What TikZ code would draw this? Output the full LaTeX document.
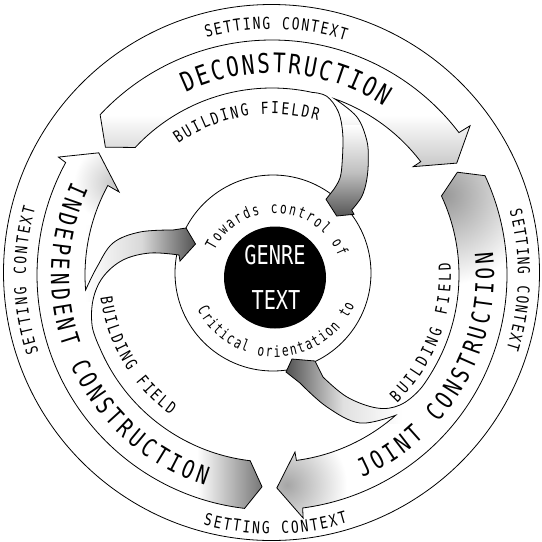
\documentclass[tikz,border=0pt]{standalone}
\usepackage{fontspec}
\newfontfamily\cf[FakeStretch=0.78]{DejaVu Sans Mono}
\newfontfamily\cfn[FakeStretch=0.72]{DejaVu Sans Mono}
\usetikzlibrary{decorations.text}
\newcommand\fSC{\cf\fontsize{16.5}{16.5}\selectfont}
\newcommand\fBig{\cf\fontsize{25}{25}\selectfont}
\newcommand\fDec{\cf\fontsize{27}{27}\selectfont}
\newcommand\fGen{\cf\fontsize{26}{26}\selectfont}
\newcommand\fBF{\cf\fontsize{16.5}{16.5}\selectfont}
\newcommand\fIn{\cfn\fontsize{15.5}{15.5}\selectfont}
\newcommand\PDecon{(-137:235) arc[start angle=-137, end angle=-37.3, radius=235] -- (-37:248) -- (-31.2:216) -- (-37.5:178) -- (-37.3:187) arc[start angle=-37.3, end angle=-70.4, radius=187] -- plot[smooth, tension=0.6] coordinates {(-70.4:187) (84.7,-158.3) (94.7,-135) (96.3,-115) (94.7,-95) (89.7,-78.3) (79.7,-65)} -- (82,-60.7) -- (64.7,-59) -- (54,-75.7) -- plot[smooth, tension=0.6] coordinates {(61.3,-85) (68,-97) (70.3,-115) (70.7,-141.7) (66.3,-163.3) (54.7,-178.8) (-77.6:187)} arc[start angle=-77.6, end angle=-137, radius=187] -- (-142.5:210) -- cycle}
\newcommand\PJoint{(-25:235) arc[start angle=-25, end angle=82.5, radius=235] -- (82.7:245) -- (88.7:213) -- (82.6:178.5) -- (82.5:187) arc[start angle=82.5, end angle=48.6, radius=187] -- plot[smooth, tension=0.6] coordinates {(48.6:187) (88,148) (55,132) (28,108)} -- (14,97) -- (20,84) -- (43,86) -- plot[smooth, tension=0.6] coordinates {(51,102) (75,122) (105,133) (128,130) (37.8:187) (30:187)} arc[start angle=30, end angle=-25, radius=187] -- (-29:212) -- cycle}
\newcommand\PIndep{(96.7:235) arc[start angle=96.7, end angle=208.6, radius=235] -- (208.9:244) -- (215.2:212) -- (208.5:174) -- (208.6:187) arc[start angle=208.6, end angle=175.4, radius=187] -- plot[smooth, tension=0.6] coordinates {(175.4:187) (-175,-8) (-159,-32) (-132,-43) (-99,-45)} -- (-86,-47) -- (-76.5,-31) -- (-92,-14) -- plot[smooth, tension=0.6] coordinates {(-93,-20) (-122,-22) (-149,-15) (-169,2) (-179,25) (164:187) (157:187)} arc[start angle=157, end angle=96.7, radius=187] -- (92.7:212) -- cycle}
\tikzset{outline/.style={draw=black, line width=0.8pt}}
\begin{document}
\begin{tikzpicture}[x=1pt,y=-1pt]
\fill[white] (0,0) rectangle (542,542);
\useasboundingbox (0,0) rectangle (542,542);
\begin{scope}[shift={(272,275)}]
% circles
\draw[outline] (-0.5,-2.5) circle (268);
\draw[outline] (1,-2) circle (98);
\fill[black] (3,2.5) circle (51);
\node[text=white, font=\fGen, inner sep=0] (genre) at (3,-20) {GENRE};
\node[text=white, font=\fGen, inner sep=0] (text) at (4,25) {TEXT};
% Deconstruction band
\begin{scope}
\clip \PDecon;
\fill[white] (-272,-275) rectangle (270,267);
\shade[top color=white, bottom color=black!25] (-240,-160) rectangle (240,-100);
\shade[top color=white, bottom color=black!70, middle color=black!25] (40,-150) rectangle (105,-55);
\end{scope}
\draw[outline] \PDecon;
% Joint band
\begin{scope}
\clip \PJoint;
\fill[white] (-272,-275) rectangle (270,267);
\shade[inner color=black!40, outer color=white] (173,-80) circle (90);
\shade[inner color=black!35, outer color=white] (15,210) circle (60);
\shade[left color=black!70, right color=white, middle color=black!12] (12,80) rectangle (130,148);
\end{scope}
\draw[outline] \PJoint;
% Independent band
\begin{scope}
\clip \PIndep;
\fill[white] (-272,-275) rectangle (270,267);
\shade[left color=white, right color=black!55] (-75,160) rectangle (-8,240);
\shade[inner color=black!22, outer color=white] (-158,-92) circle (40);
\shade[left color=white, right color=black!70, middle color=black!15] (-187,-50) rectangle (-74,26);
\end{scope}
\draw[outline] \PIndep;
% SETTING CONTEXT
\path[decorate, decoration={text along path, text align=fit to path, text={|\fSC|SETTING CONTEXT}}] (-105.5:246) arc[start angle=-105.5, end angle=-72.6, radius=246];
\path[decorate, decoration={text along path, text align=fit to path, text={|\fSC|SETTING CONTEXT}}] (105.4:259) arc[start angle=105.4, end angle=73, radius=259];
\path[decorate, decoration={text along path, text align=fit to path, text={|\fSC|SETTING CONTEXT}}] (161.6:246) arc[start angle=161.6, end angle=195.8, radius=246];
\path[decorate, decoration={text along path, text align=fit to path, text={|\fSC|SETTING CONTEXT}}] (-15.1:246) arc[start angle=-15.1, end angle=17.5, radius=246];
% band labels
\path[decorate, decoration={text along path, text align=fit to path, text={|\fDec|DECONSTRUCTION}}] (-115.3:202) arc[start angle=-115.3, end angle=-56.5, radius=202];
\path[decorate, decoration={text along path, text align=fit to path, text={|\fBig|INDEPENDENT CONSTRUCTION}}] (205:221) arc[start angle=205, end angle=107.6, radius=221];
\path[decorate, decoration={text along path, text align=fit to path, text={|\fBig|JOINT CONSTRUCTION}}] (66:222) arc[start angle=66, end angle=-6, radius=222];
% building field labels
\path[decorate, decoration={text along path, text align=fit to path, text={|\fBF|BUILDING FIELDR}}] (-125.5:161) arc[start angle=-125.5, end angle=-73.5, radius=161];
\path[decorate, decoration={text along path, text align=fit to path, text={|\fBF|BUILDING FIELD}}] (172.4:173) arc[start angle=172.4, end angle=125.9, radius=173];
\path[decorate, decoration={text along path, text align=fit to path, text={|\fBF|BUILDING FIELD}}] (45.7:179) arc[start angle=45.7, end angle=-4, radius=179];
% inner ring texts
\begin{scope}[shift={(3,6)}]
\path[decorate, decoration={text along path, text align=fit to path, text={|\fIn|Towards control of}}] (207:68) arc[start angle=207, end angle=339, radius=68];
\end{scope}
\begin{scope}[shift={(3,-5)}]
\path[decorate, decoration={text along path, text align=fit to path, text={|\fIn|Critical orientation to}}] (153:87) arc[start angle=153, end angle=24, radius=87];
\end{scope}
\end{scope}
\end{tikzpicture}
\end{document}
